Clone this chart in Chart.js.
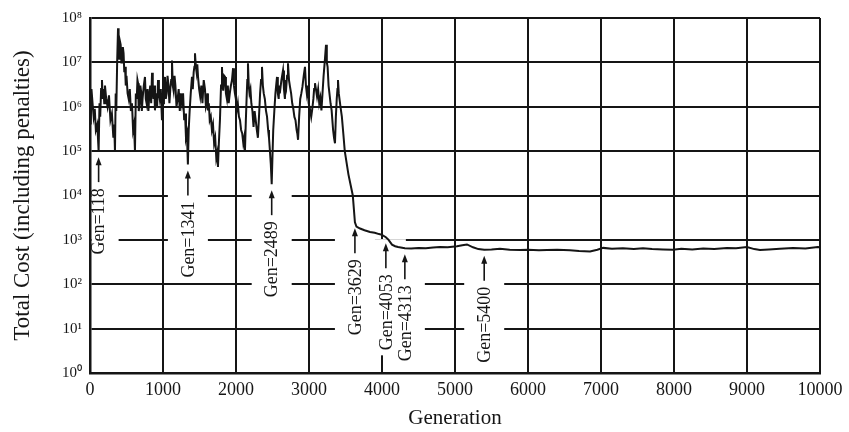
<!DOCTYPE html>
<html>
<head>
<meta charset="utf-8">
<script src="https://cdn.jsdelivr.net/npm/chart.js@4"></script>
<style>
  body { margin: 0; background: #fff; }
  #wrap { width: 849px; height: 432px; }
</style>
</head>
<body>
<div id="wrap"><canvas id="costChart"></canvas></div>
<script>
// generation numbers and total cost
const gens = [
  0, 10, 20, 35, 50, 65, 80, 100, 118, 130,
  140, 152, 164, 175, 185, 195, 205, 222, 240, 260,
  280, 300, 320, 332, 342, 352, 360, 372, 384, 392,
  400, 410, 420, 430, 438, 450, 460, 470, 480, 490,
  500, 515, 530, 545, 560, 575, 590, 603, 616, 628,
  640, 650, 658, 668, 680, 690, 700, 710, 720, 737,
  753, 764, 775, 788, 800, 812, 825, 838, 850, 860,
  870, 880, 890, 900, 910, 920, 932, 944, 955, 970,
  986, 993, 1000, 1013, 1027, 1038, 1050, 1062, 1075, 1088,
  1100, 1112, 1123, 1134, 1145, 1158, 1170, 1185, 1200, 1215,
  1230, 1245, 1260, 1275, 1290, 1302, 1315, 1328, 1341, 1352,
  1365, 1380, 1397, 1408, 1420, 1430, 1438, 1450, 1460, 1470,
  1480, 1495, 1510, 1525, 1540, 1558, 1575, 1588, 1600, 1608,
  1616, 1628, 1640, 1655, 1670, 1685, 1700, 1715, 1730, 1742,
  1753, 1765, 1780, 1795, 1808, 1816, 1825, 1838, 1850, 1862,
  1875, 1888, 1900, 1915, 1930, 1945, 1960, 1972, 1985, 1998,
  2010, 2025, 2040, 2055, 2070, 2085, 2100, 2112, 2123, 2135,
  2145, 2155, 2164, 2175, 2185, 2198, 2210, 2225, 2240, 2255,
  2270, 2285, 2300, 2315, 2330, 2343, 2356, 2368, 2380, 2395,
  2410, 2425, 2440, 2452, 2465, 2477, 2489, 2500, 2510, 2525,
  2540, 2550, 2562, 2573, 2585, 2592, 2600, 2622, 2644, 2657,
  2670, 2680, 2690, 2700, 2712, 2726, 2740, 2755, 2770, 2785,
  2800, 2815, 2830, 2840, 2850, 2865, 2880, 2895, 2910, 2928,
  2945, 2958, 2970, 2983, 2995, 3012, 3030, 3045, 3060, 3070,
  3082, 3095, 3110, 3125, 3140, 3155, 3170, 3185, 3200, 3215,
  3233, 3244, 3255, 3268, 3280, 3295, 3310, 3320, 3330, 3343,
  3356, 3368, 3380, 3390, 3397, 3408, 3420, 3435, 3450, 3470,
  3490, 3540, 3600, 3629, 3650, 3700, 3760, 3836, 3900, 3960,
  4000, 4053, 4090, 4137, 4180, 4220, 4313, 4400, 4500, 4600,
  4700, 4795, 4900, 5027, 5100, 5164, 5247, 5320, 5400, 5500,
  5616, 5750, 5890, 6000, 6150, 6260, 6400, 6575, 6700, 6850,
  6950, 7030, 7150, 7300, 7450, 7575, 7700, 7850, 7986, 8100,
  8250, 8400, 8550, 8726, 8850, 9000, 9100, 9178, 9300, 9450,
  9630, 9800, 9970, 10000
];
const costs = [
  1.5e6, 4e5, 2.5e6, 1.2e6, 6e5, 9e5, 3e5, 4e5, 1.0e5, 1.2e6,
  6e5, 2.5e6, 4e6, 1.5e6, 2.5e6, 1.2e6, 3e6, 1.5e6, 1e6, 1.8e6,
  5e5, 7e5, 2e5, 4e5, 1.0e5, 2e6, 8e5, 1e7, 5.9e7, 1.5e7,
  1.2e7, 3e7, 2.5e7, 1e7, 1.2e7, 2.2e7, 1.6e7, 6e6, 8e6, 3e6,
  5e6, 2e6, 1.5e6, 2.5e6, 8e5, 1.2e6, 3e5, 4e5, 1.0e5, 2e6,
  1.5e6, 4e6, 3.4e6, 8e5, 1.2e6, 3e6, 2.2e6, 8e5, 1.5e6, 3e6,
  4.7e6, 1.5e6, 1.2e6, 2.5e6, 8e5, 1.8e6, 3e6, 1.2e6, 5.8e6, 2.5e6,
  1.5e6, 3e6, 8.3e5, 1.5e6, 2e6, 1e6, 4e6, 2e6, 1.5e6, 2.5e6,
  5e5, 8e5, 1.2e6, 3e6, 4.7e6, 1.5e6, 2e6, 5e6, 3e6, 1.2e6,
  2.5e6, 4e6, 1.1e7, 3e6, 2.3e6, 5e6, 3e6, 1e6, 1.5e6, 2.5e6,
  8e5, 2e6, 1.2e6, 2e6, 5e5, 7e5, 2e5, 2.5e5, 5e4, 3e5,
  8e5, 2e6, 4.7e6, 2.5e6, 6e6, 8e6, 1.6e7, 8e6, 6e6, 9e6,
  4.7e6, 2.5e6, 1.7e6, 3e6, 1.2e6, 4e6, 2.5e6, 1e6, 1.2e6, 2e6,
  8.3e5, 1.2e6, 5e5, 6e5, 3e5, 4e5, 1.5e5, 2e5, 7e4, 9e4,
  4.4e4, 1.5e5, 5e5, 3e6, 7.9e6, 3e6, 2.3e6, 5e6, 4.7e6, 2e6,
  1.5e6, 3e6, 1.2e6, 2e6, 3e6, 4e6, 7.4e6, 3e6, 2e6, 1.5e6,
  8.3e5, 1.2e6, 6e5, 5e5, 3e5, 2.5e5, 1.5e5, 2e5, 1.05e5, 5e5,
  1.5e6, 4e6, 9.5e6, 3e6, 2e6, 2.5e6, 1.2e6, 8e5, 3.5e5, 8e5,
  5e5, 3e5, 2e5, 6e5, 2e6, 4e6, 7.9e6, 3e6, 2e6, 1.5e6,
  8.3e5, 6e5, 3e5, 2e5, 1e5, 5e4, 1.8e4, 8e4, 3e5, 8e5,
  2e6, 3e6, 4.7e6, 2e6, 1.5e6, 3e6, 2e6, 4e6, 6.6e6, 2.5e6,
  1.5e6, 4e6, 3e6, 5e6, 9.5e6, 4e6, 2.8e6, 2e6, 1.2e6, 9e5,
  5.9e5, 5e5, 3e5, 2.5e5, 1.8e5, 6e5, 1.5e6, 2e6, 2.8e6, 5e6,
  7.9e6, 3e6, 2e6, 3e6, 1.2e6, 9e5, 5.9e5, 9e5, 1.5e6, 2.5e6,
  3.4e6, 2.5e6, 1.7e6, 2.5e6, 1.2e6, 1.6e6, 8.3e5, 2e6, 5e6, 1e7,
  2.5e7, 1e7, 7.9e6, 3e6, 2e6, 1.2e6, 8.3e5, 5e5, 3e5, 2e5,
  1.5e5, 6e5, 1.5e6, 2.5e6, 4e6, 2e6, 1.4e6, 9e5, 6e5, 2.5e5,
  1e5, 3e4, 1e4, 2500, 2000, 1800, 1650, 1500, 1450, 1350,
  1300, 1150, 1000, 780, 720, 690, 650, 640, 660, 650,
  670, 690, 680, 720, 760, 790, 680, 620, 600, 610,
  630, 600, 590, 600, 580, 590, 600, 580, 560, 550,
  600, 660, 630, 650, 620, 650, 620, 610, 600, 630,
  610, 640, 620, 660, 650, 690, 620, 590, 610, 630,
  660, 640, 690, 680
];
const xTicks = [0, 1000, 2000, 3000, 4000, 5000, 6000, 7000, 8000, 9000, 10000];
const yTicks = [1, 10, 100, 1e3, 1e4, 1e5, 1e6, 1e7, 1e8];
const yTickLabels = ["10⁰", "10¹", "10²", "10³", "10⁴", "10⁵", "10⁶", "10⁷", "10⁸"];
const markedGens = [118, 1341, 2489, 3629, 4053, 4313, 5400];

const serif = "'Liberation Serif', 'Times New Roman', serif";
const ink = "#151515";
const noteFont = "18px " + serif;

// rotated "Gen=..." notes with an arrow pointing up at the curve
const genNotes = {
    id: "genNotes",
    boxes(chart) {
        const ctx = chart.ctx;
        const xs = chart.scales.x, ys = chart.scales.y;
        ctx.save();
        ctx.font = noteFont;
        const out = markedGens.map(g => {
            const i = gens.indexOf(g);
            const x = xs.getPixelForValue(g);
            const tip = ys.getPixelForValue(costs[i]) + 6;
            const w = ctx.measureText("Gen=" + g).width;
            return { g, x, tip, textTop: tip + 31, textBottom: tip + 31 + w };
        });
        ctx.restore();
        return out;
    },
    beforeDatasetsDraw(chart) {
        const ctx = chart.ctx, area = chart.chartArea;
        ctx.save();
        ctx.fillStyle = "#fff";
        this.boxes(chart).forEach(b => {
            const left = Math.max(b.x - 20, area.left + 2);
            const bottom = Math.min(b.textBottom + 5, area.bottom - 3);
            ctx.fillRect(left, b.tip - 4, b.x + 20 - left, bottom - (b.tip - 4));
        });
        ctx.restore();
    },
    afterDatasetsDraw(chart) {
        const ctx = chart.ctx;
        ctx.save();
        ctx.strokeStyle = ink;
        ctx.fillStyle = ink;
        ctx.lineWidth = 1.6;
        this.boxes(chart).forEach(b => {
            ctx.beginPath();
            ctx.moveTo(b.x, b.tip + 4);
            ctx.lineTo(b.x, b.tip + 25);
            ctx.stroke();
            ctx.beginPath();
            ctx.moveTo(b.x, b.tip);
            ctx.lineTo(b.x - 3, b.tip + 8);
            ctx.lineTo(b.x + 3, b.tip + 8);
            ctx.closePath();
            ctx.fill();

            ctx.save();
            ctx.translate(b.x, b.textTop);
            ctx.rotate(-Math.PI / 2);
            ctx.font = noteFont;
            ctx.textAlign = "right";
            ctx.textBaseline = "middle";
            ctx.fillText("Gen=" + b.g, 0, 1);
            ctx.restore();
        });
        ctx.restore();
    }
};

const ctx = document.getElementById("costChart").getContext("2d");
new Chart(ctx, {
    type: "line",
    data: {
        datasets: [{
            data: gens.map((g, i) => ({ x: g, y: costs[i] })),
            borderColor: ink,
            borderWidth: 2,
            pointRadius: 0,
            tension: 0,
            fill: false
        }]
    },
    options: {
        responsive: true,
        maintainAspectRatio: false,
        animation: false,
        layout: { padding: { top: 18, right: 29, bottom: 0, left: 0 } },
        plugins: { legend: { display: false }, tooltip: { enabled: false } },
        scales: {
            x: {
                type: "linear",
                min: 0,
                max: 10000,
                afterBuildTicks: axis => { axis.ticks = xTicks.map(v => ({ value: v })); },
                afterFit: axis => { axis.height = 59; },
                grid: { color: ink, lineWidth: 2, drawTicks: false },
                border: { color: ink, width: 2.5 },
                ticks: {
                    color: ink,
                    padding: 6,
                    maxRotation: 0,
                    font: { family: serif, size: 18 },
                    callback: v => String(v)
                },
                title: {
                    display: true,
                    text: "Generation",
                    color: ink,
                    font: { family: serif, size: 21 },
                    padding: { top: 0, bottom: 1 }
                }
            },
            y: {
                type: "logarithmic",
                min: 1,
                max: 1e8,
                afterBuildTicks: axis => { axis.ticks = yTicks.map(v => ({ value: v })); },
                afterFit: axis => { axis.width = 90; },
                grid: { color: ink, lineWidth: 2, drawTicks: false },
                border: { color: ink, width: 2.5 },
                ticks: {
                    color: ink,
                    padding: 8,
                    font: { family: serif, size: 15 },
                    callback: v => yTickLabels[Math.round(Math.log10(v))]
                },
                title: {
                    display: true,
                    text: "Total Cost (including penalties)",
                    color: ink,
                    font: { family: serif, size: 23 },
                    padding: { top: 9, bottom: 0 }
                }
            }
        }
    },
    plugins: [genNotes]
});
</script>
</body>
</html>
